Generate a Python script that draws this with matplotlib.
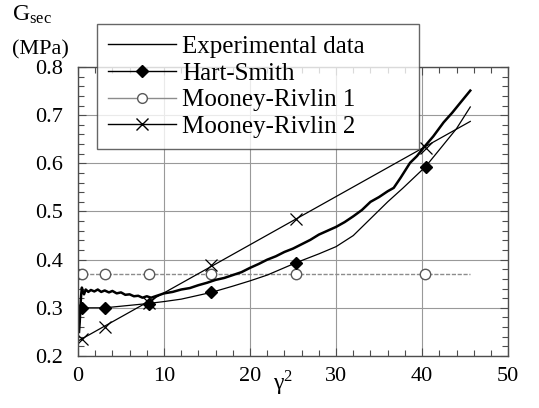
import matplotlib
matplotlib.use("Agg")
from matplotlib import pyplot as plt
from matplotlib.lines import Line2D
from matplotlib.ticker import MultipleLocator

plt.rcParams['font.family'] = ['Liberation Serif', 'DejaVu Serif']
plt.rcParams['mathtext.fontset'] = 'stix'

# experimental secant modulus vs gamma^2
exp_g2 = [0.12, 0.2, 0.28, 0.36, 0.45, 0.55, 0.7, 0.9, 1.2, 1.5, 1.9, 2.3, 2.7, 3.1,
          3.6, 4.0, 4.5, 5.0, 5.5, 6.0, 6.5, 7.0, 7.5, 8.0, 8.5, 9.0, 9.5, 10.0,
          11.0, 12.0, 13.0, 14.0, 15.0, 16.0, 17.0, 18.0, 19.0, 20.0, 21.0, 22.0,
          23.0, 24.0, 25.0, 26.0, 27.0, 28.0, 29.0, 30.0, 31.0, 32.0, 33.0, 34.0,
          35.0, 36.0, 36.7, 37.5, 38.6, 39.4, 40.2, 41.3, 42.5, 43.5, 44.5, 45.6]
exp_g = [0.25, 0.27, 0.30, 0.325, 0.342, 0.335, 0.328, 0.338, 0.333, 0.337, 0.334, 0.338,
         0.333, 0.336, 0.332, 0.335, 0.330, 0.332, 0.327, 0.328, 0.324, 0.325, 0.321, 0.324,
         0.321, 0.324, 0.327, 0.330, 0.333, 0.338, 0.341, 0.347, 0.352, 0.358, 0.362, 0.368,
         0.374, 0.383, 0.391, 0.400, 0.407, 0.416, 0.423, 0.432, 0.441, 0.452, 0.460, 0.468,
         0.478, 0.490, 0.503, 0.520, 0.530, 0.542, 0.549, 0.570, 0.601, 0.615, 0.633, 0.656,
         0.685, 0.705, 0.727, 0.751]

# Hart-Smith fit (curve and marker points)
hs_g2 = [0.0, 0.43, 3.1, 8.2, 10.0, 12.0, 15.5, 18.0, 20.0, 22.0, 25.4, 28.0, 30.0, 32.0,
         34.0, 36.0, 37.8, 40.4, 42.0, 44.0, 45.6]
hs_g = [0.300, 0.300, 0.300, 0.309, 0.313, 0.318, 0.332, 0.345, 0.356, 0.368, 0.394, 0.412,
        0.427, 0.450, 0.485, 0.520, 0.549, 0.593, 0.628, 0.672, 0.717]
hs_pts_g2 = [0.43, 3.1, 8.2, 15.5, 25.4, 40.4]
hs_pts_g = [0.300, 0.300, 0.308, 0.332, 0.394, 0.593]

# Mooney-Rivlin 1
mr1_g2 = [0.0, 45.6]
mr1_g = [0.37, 0.37]
mr1_pts_g2 = [0.43, 3.1, 8.2, 15.5, 25.4, 40.3]
mr1_pts_g = [0.37, 0.37, 0.37, 0.37, 0.37, 0.37]

# Mooney-Rivlin 2
mr2_g2 = [0.0, 45.6]
mr2_g = [0.231, 0.687]
mr2_pts_g2 = [0.43, 3.1, 8.2, 15.5, 25.4, 40.4]
mr2_pts_g = [0.235, 0.260, 0.310, 0.388, 0.485, 0.632]

labels = ["Experimental data", "Hart-Smith", "Mooney-Rivlin 1", "Mooney-Rivlin 2"]

fig = plt.figure(figsize=(5.39, 4.08), dpi=100)
ax = fig.add_axes([0.1447, 0.1275, 0.798, 0.7083])

grey = '0.55'
ax.plot(mr1_g2, mr1_g, color=grey, linewidth=1.0, dashes=(3, 1.2))
ax.plot(mr1_pts_g2, mr1_pts_g, linestyle='none', marker='o', markersize=7.5,
        markerfacecolor='white', markeredgecolor='0.35', markeredgewidth=1.0)
ax.plot(mr2_g2, mr2_g, color='black', linewidth=0.9)
ax.plot(mr2_pts_g2, mr2_pts_g, linestyle='none', marker='x', markersize=9,
        color='black', markeredgewidth=0.9)
ax.plot(hs_g2, hs_g, color='black', linewidth=0.9)
ax.plot(hs_pts_g2, hs_pts_g, linestyle='none', marker='D', markersize=6.5, color='black')
ax.plot(exp_g2, exp_g, color='black', linewidth=1.8)

ax.set_xlim(0, 50)
ax.set_ylim(0.2, 0.8)
ax.xaxis.set_major_locator(MultipleLocator(10))
ax.xaxis.set_minor_locator(MultipleLocator(2))
ax.yaxis.set_major_locator(MultipleLocator(0.1))
ax.yaxis.set_minor_locator(MultipleLocator(0.02))
ax.yaxis.set_major_formatter(plt.FuncFormatter(lambda v, p: "%.1f" % v))
ax.tick_params(which='both', direction='in', top=True, right=True, colors='0.3',
               labelcolor='black')
ax.tick_params(which='major', length=6, width=0.8, labelsize=16)
ax.tick_params(which='minor', length=4, width=0.8)
ax.tick_params(axis='x', pad=8)
ax.tick_params(axis='y', pad=11)
ax.grid(True, which='major', color='0.6', linewidth=0.8)
for s in ax.spines.values():
    s.set_color('0.3')
    s.set_linewidth(1.0)

fig.text(0.022, 0.99, r'G$_\mathregular{sec}$', fontsize=17, va='top', ha='left')
fig.text(0.022, 0.878, '(MPa)', fontsize=16, va='center', ha='left')
fig.text(0.525, 0.025, r'γ$^\mathregular{2}$', fontsize=17, va='bottom', ha='center')

handles = [
    Line2D([], [], color='black', linewidth=1.0),
    Line2D([], [], color='black', linewidth=1.0, marker='D', markersize=6),
    Line2D([], [], color=grey, linewidth=1.0, marker='o', markersize=7,
           markerfacecolor='white', markeredgecolor='0.35'),
    Line2D([], [], color='black', linewidth=1.0, marker='x', markersize=9),
]
# legend box spans a fixed width; text stays left-aligned inside it
leg = fig.legend(handles, labels, loc='upper left',
                 bbox_to_anchor=(0.18, 0.649, 0.597, 0.292), mode='expand',
                 fontsize=18, frameon=True, fancybox=False, handlelength=2.7,
                 handletextpad=0.25, labelspacing=0.17, borderpad=0.45,
                 borderaxespad=0)
leg.get_frame().set_edgecolor('0.25')
leg.get_frame().set_linewidth(1.0)
leg.set_zorder(10)

fig.savefig("out.png", dpi=100)
